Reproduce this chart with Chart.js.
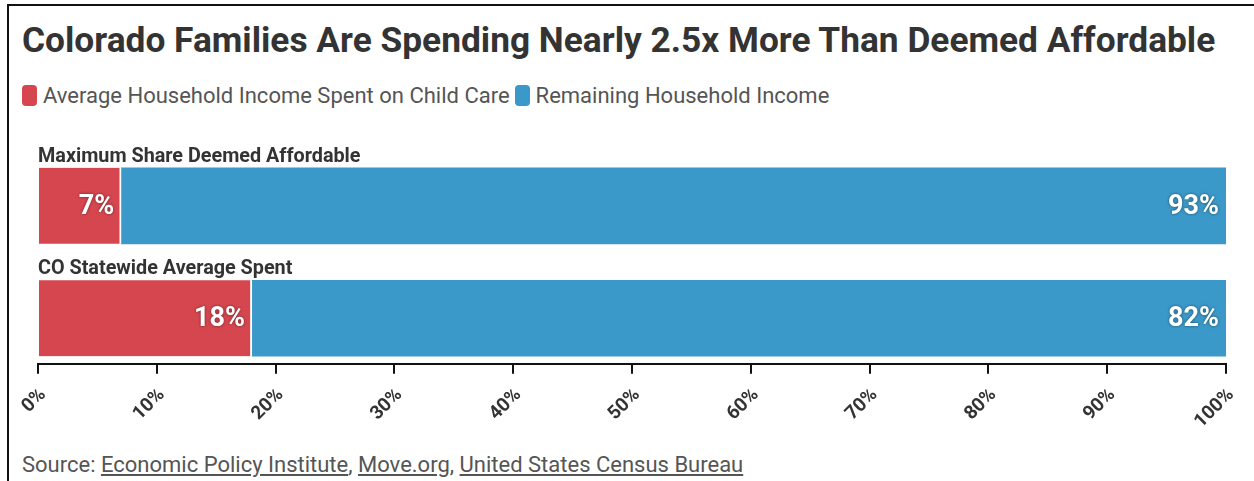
<!DOCTYPE html>
<html>
<head>
<meta charset="utf-8">
<script src="https://cdn.jsdelivr.net/npm/chart.js@4"></script>
<style>
  html, body { margin: 0; padding: 0; background: #fff; }
  body { width: 1254px; height: 481px; position: relative; overflow: hidden; font-family: Roboto, sans-serif; }
  .frame { position: absolute; left: 7px; top: 4px; right: -4px; bottom: -4px; border-left: 2px solid #111; border-top: 2px solid #111; }
  .title { position: absolute; left: 22px; top: 19px; font-size: 35.3px; font-weight: 700; color: #333; white-space: nowrap; }
  .legend { position: absolute; left: 22px; top: 83px; font-size: 22px; color: #555; white-space: nowrap; display: flex; align-items: center; }
  .legend .sw { display: inline-block; width: 15px; height: 21px; border-radius: 4px; margin-right: 6px; }
  .legend .item { display: flex; align-items: center; margin-right: 5px; }
  .chart-box { position: absolute; left: 10px; top: 140px; width: 1244px; height: 303px; }
  .source { position: absolute; left: 22px; top: 452px; font-size: 22px; color: #555; white-space: nowrap; }
  .source span { text-decoration: underline; }
</style>
</head>
<body>
<div class="frame"></div>
<div class="title">Colorado Families Are Spending Nearly 2.5x More Than Deemed Affordable</div>
<div class="legend" id="legend"></div>
<div class="chart-box"><canvas id="shareChart"></canvas></div>
<div class="source">Source: <span>Economic Policy Institute</span>, <span>Move.org</span>, <span>United States Census Bureau</span></div>

<script>
// ===== Data =====
const categories = ["Maximum Share Deemed Affordable", "CO Statewide Average Spent"];
const childCareShare = [7, 18];
const remainingShare = [93, 82];
const xTicks = [0, 10, 20, 30, 40, 50, 60, 70, 80, 90, 100];

const RED = "#d6464f";
const BLUE = "#3a99c9";

const seriesNames = ["Average Household Income Spent on Child Care", "Remaining Household Income"];
const seriesColors = [RED, BLUE];

Chart.defaults.font.family = "Roboto";

// ===== Legend (plain HTML) =====
const legendEl = document.getElementById("legend");
seriesNames.forEach((name, i) => {
    const item = document.createElement("span");
    item.className = "item";
    item.innerHTML = `<span class="sw" style="background:${seriesColors[i]}"></span>${name}`;
    legendEl.appendChild(item);
});

// category names sit just above each bar
const categoryLabels = {
    id: "categoryLabels",
    afterDatasetsDraw(chart) {
        const { ctx, scales: { x, y } } = chart;
        const half = chart.getDatasetMeta(0).data[0].height / 2;
        ctx.save();
        ctx.font = "bold 19.8px Roboto";
        ctx.fillStyle = "#333";
        ctx.textAlign = "left";
        ctx.textBaseline = "alphabetic";
        chart.data.labels.forEach((label, i) => {
            ctx.fillText(label, x.left, y.getPixelForValue(i) - half - 6);
        });
        ctx.restore();
    }
};

// white value labels at the end of each segment
const valueLabels = {
    id: "valueLabels",
    afterDatasetsDraw(chart) {
        const { ctx } = chart;
        ctx.save();
        ctx.font = "bold 27px Roboto";
        ctx.textAlign = "right";
        ctx.textBaseline = "middle";
        ctx.fillStyle = "#fff";
        ctx.shadowColor = "rgba(0,0,0,0.5)";
        ctx.shadowBlur = 3;
        chart.data.datasets.forEach((ds, di) => {
            chart.getDatasetMeta(di).data.forEach((bar, i) => {
                ctx.fillText(ds.data[i].x + "%", bar.x - 7, bar.y + 1);
            });
        });
        ctx.restore();
    }
};

new Chart(document.getElementById("shareChart").getContext("2d"), {
    type: "bar",
    data: {
        labels: categories,
        datasets: [
            {
                label: seriesNames[0],
                data: childCareShare.map((v, i) => ({ x: v, y: i })),
                backgroundColor: RED,
                borderColor: "#fff",
                borderWidth: { top: 0, right: 2, bottom: 0, left: 0 },
                borderSkipped: false
            },
            {
                label: seriesNames[1],
                data: remainingShare.map((v, i) => ({ x: v, y: i })),
                backgroundColor: BLUE,
                borderWidth: 0
            }
        ]
    },
    options: {
        indexAxis: "y",
        responsive: true,
        maintainAspectRatio: false,
        animation: false,
        barThickness: 76,
        layout: { padding: { left: 28, right: 28, top: 0, bottom: 0 } },
        plugins: {
            legend: { display: false },
            tooltip: { enabled: false }
        },
        scales: {
            x: {
                stacked: true,
                min: 0,
                max: 100,
                afterBuildTicks: (scale) => { scale.ticks = xTicks.map(v => ({ value: v })); },
                border: { display: true, color: "#111", width: 2 },
                grid: { drawOnChartArea: false, drawTicks: true, tickLength: 10, color: "#111", lineWidth: 2 },
                ticks: {
                    minRotation: 45,
                    maxRotation: 45,
                    padding: 10,
                    labelOffset: 5,
                    color: "#333",
                    font: { family: "Roboto", weight: "bold", size: 19 },
                    callback: (v) => v + "%"
                }
            },
            y: {
                type: "linear",
                stacked: true,
                reverse: true,
                offset: false,
                min: -0.5856,
                max: 1.405,
                display: false
            }
        }
    },
    plugins: [categoryLabels, valueLabels]
});
</script>
</body>
</html>
